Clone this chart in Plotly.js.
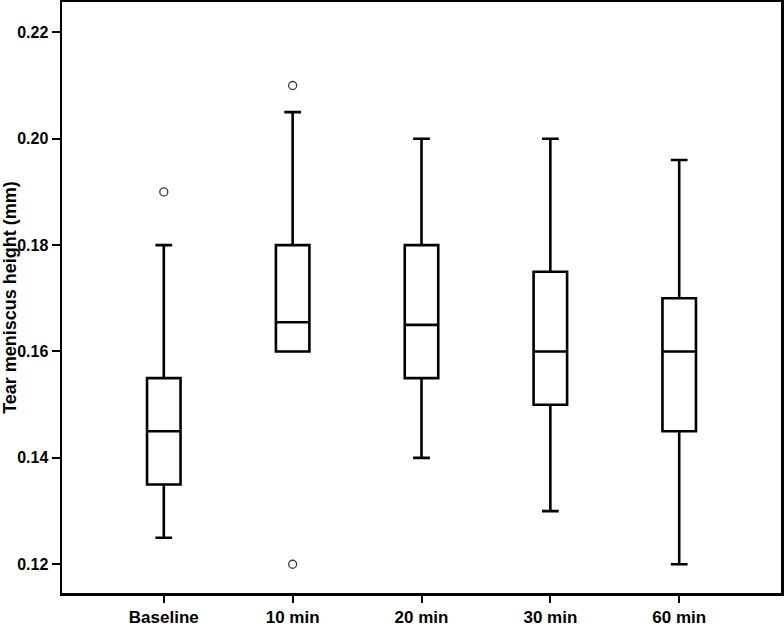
<!DOCTYPE html>
<html>
<head>
<meta charset="utf-8">
<script src="https://cdn.plot.ly/plotly-3.0.1.min.js"></script>
<style>html,body{margin:0;padding:0;background:#fff;}#chart{width:784px;height:626px;}</style>
</head>
<body>
<div id="chart"></div>
<script>
const categories = ["Baseline", "10 min", "20 min", "30 min", "60 min"];
const lowerWhisker = [0.125, 0.160, 0.140, 0.130, 0.120];
const q1Values = [0.135, 0.160, 0.155, 0.150, 0.145];
const medianValues = [0.145, 0.1655, 0.165, 0.160, 0.160];
const q3Values = [0.155, 0.180, 0.180, 0.175, 0.170];
const upperWhisker = [0.180, 0.205, 0.200, 0.200, 0.196];
const outlierCategories = ["Baseline", "10 min", "10 min"];
const outlierValues = [0.190, 0.210, 0.120];
const yTickValues = [0.12, 0.14, 0.16, 0.18, 0.20, 0.22];
const yTickLabels = ["0.12", "0.14", "0.16", "0.18", "0.20", "0.22"];

const fontFam = '"Liberation Sans", Arial, sans-serif';

const data = [
  {
    type: 'box',
    x: categories,
    q1: q1Values,
    median: medianValues,
    q3: q3Values,
    lowerfence: lowerWhisker,
    upperfence: upperWhisker,
    width: 0.26,
    whiskerwidth: 0.5,
    fillcolor: '#ffffff',
    line: {color: '#000000', width: 2.6},
    boxpoints: false,
    hoverinfo: 'skip',
    showlegend: false
  },
  {
    type: 'scatter',
    mode: 'markers',
    x: outlierCategories,
    y: outlierValues,
    marker: {symbol: 'circle-open', size: 8, color: '#3a3a3a', line: {width: 1.3, color: '#3a3a3a'}},
    hoverinfo: 'skip',
    showlegend: false
  }
];

const layout = {
  width: 784,
  height: 626,
  margin: {l: 62, r: 3, t: 2, b: 33},
  paper_bgcolor: '#ffffff',
  plot_bgcolor: '#ffffff',
  showlegend: false,
  font: {family: fontFam, color: '#000000'},
  xaxis: {
    type: 'category',
    categoryorder: 'array',
    categoryarray: categories,
    range: [-0.79, 4.79],
    showline: true,
    mirror: true,
    linecolor: '#000000',
    linewidth: 2.5,
    showgrid: false,
    zeroline: false,
    ticks: 'outside',
    ticklen: 7,
    tickwidth: 2,
    tickcolor: '#000000',
    tickfont: {family: fontFam, size: 17, color: '#000000', weight: 'bold'},
    fixedrange: true
  },
  yaxis: {
    range: [0.1146, 0.2257],
    tickvals: yTickValues,
    ticktext: yTickLabels,
    showline: true,
    mirror: true,
    linecolor: '#000000',
    linewidth: 2.5,
    showgrid: false,
    zeroline: false,
    ticks: 'outside',
    ticklen: 8,
    tickwidth: 2,
    tickcolor: '#000000',
    tickfont: {family: fontFam, size: 16, color: '#000000', weight: 'bold'},
    title: {text: 'Tear meniscus height (mm)', font: {family: fontFam, size: 18, color: '#000000', weight: 'bold'}, standoff: 4},
    fixedrange: true
  }
};

Plotly.newPlot('chart', data, layout, {displayModeBar: false, staticPlot: true});
</script>
</body>
</html>
